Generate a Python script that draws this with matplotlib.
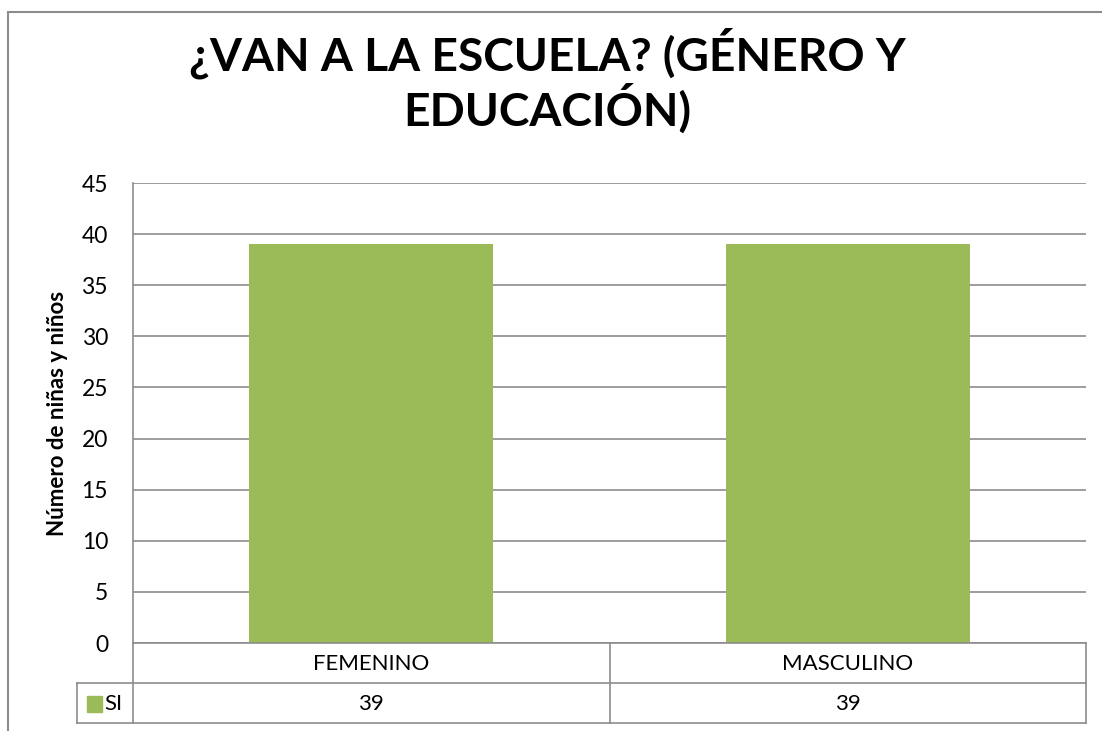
import matplotlib.pyplot as plt
from matplotlib.lines import Line2D
from matplotlib.patches import Rectangle

# datos
categorias = ['FEMENINO', 'MASCULINO']
valores_si = [39, 39]
serie = 'SI'
titulo = '¿VAN A LA ESCUELA? (GÉNERO Y\nEDUCACIÓN)'
etiqueta_y = 'Número de niñas y niños'
ticks_y = [0, 5, 10, 15, 20, 25, 30, 35, 40, 45]

verde = '#9BBB59'
gris = '#8C8C8C'

plt.rcParams['font.family'] = ['Lato', 'DejaVu Sans']

W, H = 1102, 731
fig = plt.figure(figsize=(W / 100, H / 100), dpi=100)

def fx(px):
    return px / W

def fy(py):
    return 1 - py / H

# marco exterior del grafico
fig.add_artist(Rectangle((fx(8), fy(740)), fx(1110 - 8), fy(12) - fy(740),
                         fill=False, edgecolor=gris, linewidth=1.5))

# area de trazado
x0, x1, ytop, ybot = 133, 1086, 183, 643
ax = fig.add_axes([fx(x0), fy(ybot), fx(x1 - x0), fy(ytop) - fy(ybot)])
pos = list(range(len(categorias)))
ax.bar(pos, valores_si, width=0.512, color=verde, zorder=3)
ax.set_xlim(-0.5, len(categorias) - 0.5)
ax.set_ylim(0, 45)
ax.set_yticks(ticks_y)
ax.set_xticks([])
ax.grid(axis='y', color=gris, linewidth=1.2, zorder=0)
ax.tick_params(axis='y', length=0, labelsize=16.5, pad=18)
for s in ['top', 'right']:
    ax.spines[s].set_visible(False)
ax.spines['bottom'].set_visible(False)
ax.spines['left'].set_color(gris)
ax.spines['left'].set_linewidth(1.2)
ax.set_ylabel(etiqueta_y, fontsize=16, fontweight='bold', labelpad=10)

fig.text(0.497, fy(81), titulo, ha='center', va='center', fontsize=33.2,
         fontweight='bold', linespacing=1.1)

# tabla de datos
r1, r2, r3 = 643, 683, 723
leg_x = 77
col_w = (x1 - x0) / len(categorias)

def hline(xa, xb, y):
    fig.add_artist(Line2D([fx(xa), fx(xb)], [fy(y), fy(y)], color=gris, linewidth=1.2))

def vline(x, ya, yb):
    fig.add_artist(Line2D([fx(x), fx(x)], [fy(ya), fy(yb)], color=gris, linewidth=1.2))

hline(x0, x1, r1)
hline(leg_x, x1, r2)
hline(leg_x, x1, r3)
vline(leg_x, r2, r3)
vline(x0, r1, r3)
for i in range(1, len(categorias) + 1):
    vline(x0 + col_w * i, r1, r3)

for i, (c, v) in enumerate(zip(categorias, valores_si)):
    cx = x0 + col_w * (i + 0.5)
    fig.text(fx(cx), fy((r1 + r2) / 2 + 1), c, ha='center', va='center', fontsize=16)
    fig.text(fx(cx), fy((r2 + r3) / 2 + 1), str(v), ha='center', va='center', fontsize=16)

fig.add_artist(Rectangle((fx(87), fy(712)), fx(15), fy(696) - fy(712), color=verde))
fig.text(fx(104), fy((r2 + r3) / 2 + 1), serie, ha='left', va='center', fontsize=16)

fig.savefig('out.png', dpi=100)
